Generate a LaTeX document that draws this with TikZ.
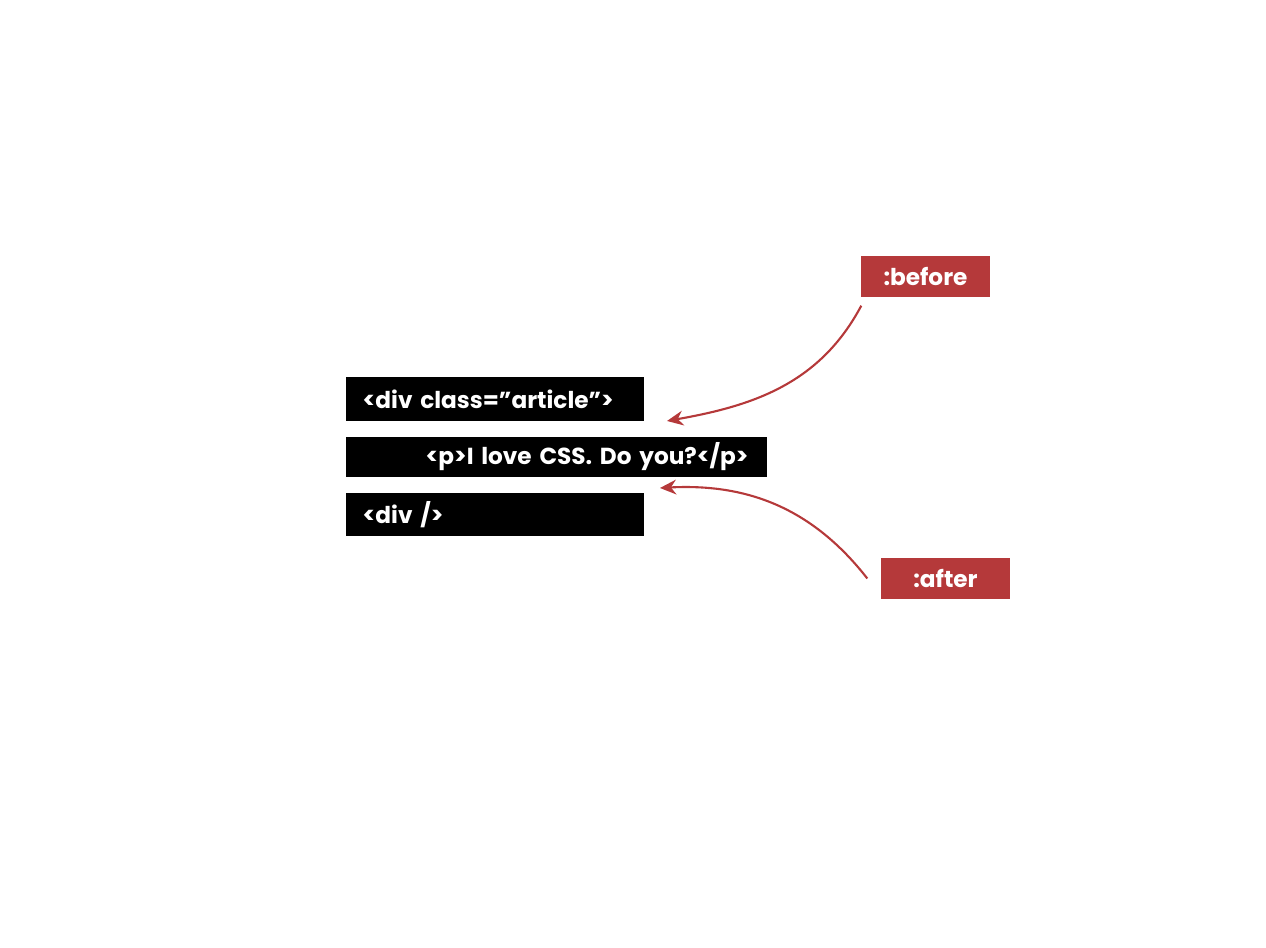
\documentclass[tikz,border=0pt]{standalone}
\usepackage{fontspec}
\setmainfont{Poppins}
\usetikzlibrary{arrows.meta}
\definecolor{tagred}{HTML}{B5393A}
\tikzset{
  codebox/.style={fill=black, text=white, font=\fontsize{6.6}{7}\selectfont\bfseries,
    anchor=west, align=left, inner ysep=0pt, inner xsep=0.17cm, minimum height=#1},
  pseudobox/.style={fill=tagred, text=white, font=\fontsize{6.6}{7}\selectfont\bfseries,
    minimum width=1.29cm, minimum height=0.41cm, inner sep=0pt},
  pointer/.style={tagred, line width=0.6pt, -{Stealth[length=4.6pt, width=4.2pt]}}
}
\begin{document}
\begin{tikzpicture}
  \useasboundingbox (0,0) rectangle (12.66,9.48);
  % code lines
  \node[codebox=0.44cm, text width=2.64cm] (divopen) at (3.45,5.49) {\mbox{<div class=\char34 article\char34>}};
  \node[codebox=0.40cm, text width=3.87cm] (ptext) at (3.45,4.91) {\mbox{\hspace*{0.63cm}<p>I love CSS. Do you?</p>}};
  \node[codebox=0.43cm, text width=2.64cm] (divclose) at (3.45,4.335) {\mbox{<div />}};
  % pseudo elements
  \node[pseudobox] (before) at (9.255,6.715) {:before};
  \node[pseudobox] (after) at (9.455,3.695) {:after};
  \coordinate (beforetip) at (6.67,5.27);
  \coordinate (aftertip) at (6.60,4.60);
  \draw[pointer] ([xshift=0.01cm, yshift=-0.08cm]before.south west) to[out=-118, in=10] (beforetip);
  \draw[pointer] ([xshift=-0.13cm]after.west) to[out=128, in=3] (aftertip);
\end{tikzpicture}
\end{document}
